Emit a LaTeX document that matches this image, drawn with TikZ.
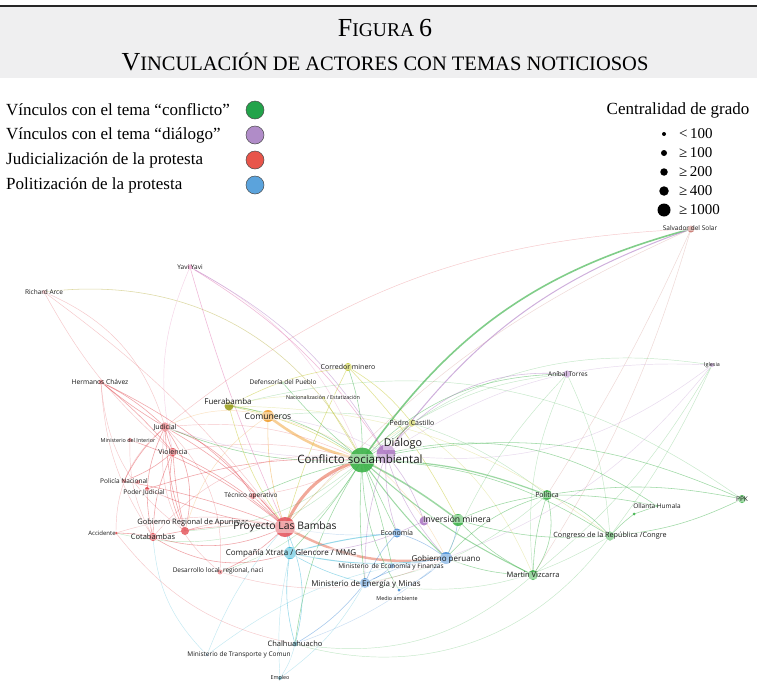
\documentclass[tikz,border=0pt]{standalone}
\usepackage{fontspec}
\setmainfont{Liberation Serif}
\newfontfamily\labfont{Open Sans}
\definecolor{cgreen}{HTML}{3DB34A}
\definecolor{cpurple}{HTML}{B07CC6}
\definecolor{cred}{HTML}{E2474F}
\definecolor{cblue}{HTML}{4A90D9}
\definecolor{ccyan}{HTML}{33B5D6}
\definecolor{cyel}{HTML}{C4C82A}
\definecolor{corange}{HTML}{F0A030}
\definecolor{cpink}{HTML}{E070B0}
\definecolor{cbrown}{HTML}{C87870}
\definecolor{hdrgray}{HTML}{EFEFF0}
\definecolor{lgreen}{HTML}{22A34A}
\definecolor{lpurple}{HTML}{B08CC8}
\definecolor{lred}{HTML}{E8554A}
\definecolor{lblue}{HTML}{5BA3DC}
\begin{document}
\begin{tikzpicture}[x=1pt,y=-1pt,
  dot/.style={circle,inner sep=0pt,draw=none,fill=#1,fill opacity=0.9},
  lbl/.style={font=\labfont\fontsize{#1}{#1}\selectfont,text=black!90,inner sep=0.6pt,fill=white,fill opacity=0.45,text opacity=1},
  edge/.style={line width=0.55pt,opacity=0.5},
  fedge/.style={line width=0.45pt,opacity=0.3},
  legdot/.style={circle,draw=black!70,line width=0.5pt,fill=#1,minimum width=16pt,minimum height=18pt,inner sep=0pt},
  degdot/.style={circle,fill=black,inner sep=0pt,minimum size=#1},
  legtext/.style={font=\fontsize{17}{17}\selectfont,anchor=west,inner sep=0pt},
  degtext/.style={font=\fontsize{15}{15}\selectfont,anchor=west,inner sep=0pt}
]
\useasboundingbox (0,0) rectangle (757,699);
\fill[white] (0,0) rectangle (757,699);
% header
\fill[hdrgray] (0,7) rectangle (757,78);
\draw[line width=1.4pt,black!85] (0,6) -- (757,6);
\node (t1) at (385,28) {\fontsize{26}{26}\selectfont F\fontsize{19.5}{19.5}\selectfont IGURA \fontsize{26}{26}\selectfont 6};
\node (t2) at (385,62) {\fontsize{26}{26}\selectfont V\fontsize{20.5}{20.5}\selectfont INCULACIÓN DE ACTORES CON TEMAS NOTICIOSOS};
% legend
\node[legtext] (l1) at (6,110) {Vínculos con el tema “conflicto”};
\node[legtext] (l2) at (6,135) {Vínculos con el tema “diálogo”};
\node[legtext] (l3) at (6,160) {Judicialización de la protesta};
\node[legtext] (l4) at (6,185) {Politización de la protesta};
\node[legdot=lgreen] (c1) at (255,110) {};
\node[legdot=lpurple] (c2) at (255,135) {};
\node[legdot=lred] (c3) at (255,160) {};
\node[legdot=lblue] (c4) at (255,185) {};
\node[font=\fontsize{17}{17}\selectfont,inner sep=0pt] (cg) at (678,110) {Centralidad de grado};
\node[degdot=4pt] (d1) at (664,134) {};
\node[degdot=6pt] (d2) at (664,153) {};
\node[degdot=7.5pt] (d3) at (664,172) {};
\node[degdot=9.5pt] (d4) at (664,191) {};
\node[degdot=13pt] (d5) at (664,210) {};
\node[degtext] (e1) at (679,134) {<\,100};
\node[degtext] (e2) at (679,153) {≥\,100};
\node[degtext] (e3) at (679,172) {≥\,200};
\node[degtext] (e4) at (679,191) {≥\,400};
\node[degtext] (e5) at (679,210) {≥\,1000};
% coordinates of actors
\coordinate (sds) at (691,229);
\coordinate (yy) at (190,267);
\coordinate (ra) at (44,292);
\coordinate (cm) at (348,367);
\coordinate (dp) at (283,383);
\coordinate (ne) at (324,398);
\coordinate (hc) at (101,382);
\coordinate (fb) at (229,406);
\coordinate (co) at (268,416);
\coordinate (ju) at (165,427);
\coordinate (mi) at (130,440);
\coordinate (vi) at (173,452);
\coordinate (pc) at (412,423);
\coordinate (at) at (567,374);
\coordinate (ig) at (712,365);
\coordinate (di) at (386,454);
\coordinate (cs) at (362,460);
\coordinate (pn) at (124,481);
\coordinate (pn2) at (138,482);
\coordinate (pj) at (147,489);
\coordinate (to) at (253,496);
\coordinate (gr) at (185,531);
\coordinate (ac) at (116,533);
\coordinate (ct) at (153,537);
\coordinate (lb) at (285,527);
\coordinate (cx) at (290,553);
\coordinate (dl) at (220,572);
\coordinate (ec) at (397,533);
\coordinate (imp) at (424,521);
\coordinate (im) at (458,520);
\coordinate (mef) at (392,566);
\coordinate (gp) at (446,558);
\coordinate (mem) at (365,583);
\coordinate (ma) at (399,590);
\coordinate (po) at (547,495);
\coordinate (oh) at (657,506);
\coordinate (oh2) at (634,514);
\coordinate (ppk) at (742,499);
\coordinate (cr) at (610,536);
\coordinate (mv) at (533,575);
\coordinate (ch) at (295,644);
\coordinate (mt) at (207,655);
\coordinate (em) at (280,678);
% faint long edges
\draw[fedge,cred] (ju) to[bend left=18] (sds);
\draw[fedge,cbrown] (sds) to[bend left=8] (mv);
\draw[fedge,cbrown] (sds) to[bend left=4] (po);
\draw[fedge,cbrown] (sds) to[bend right=12] (lb);
\draw[edge,olive!60] (ra) to[bend left=35] (cs);
\draw[fedge,cred] (ra) to[bend left=25] (ju);
\draw[fedge,cred] (ra) to[bend right=10] (vi);
\draw[fedge,cred] (ra) to[bend left=8] (lb);
\draw[edge,cpink] (yy) to[bend left=12] (di);
\draw[edge,cpink] (yy) to[bend right=4] (lb);
\draw[fedge,cpink] (yy) to[bend right=18] (vi);
\draw[fedge,cpink] (yy) to[bend left=20] (cs);
\draw[fedge,cpurple] (di) to[bend left=18] (ig);
\draw[fedge,cpurple] (di) to[bend right=22] (ig);
\draw[fedge,cgreen] (cs) to[bend left=24] (ig);
\draw[fedge,cgreen] (co) to[bend left=22] (po);
\draw[fedge,cgreen] (fb) to[bend left=25] (ppk);
\draw[fedge,cyel] (fb) to[bend left=18] (cr);
\draw[fedge,cgreen] (at) to[bend right=15] (mv);
\draw[fedge,cgreen] (at) to[bend right=10] (gp);
\draw[fedge,cgreen] (at) to[bend left=10] (cr);
\draw[fedge,cgreen] (pc) to[bend left=12] (at);
\draw[fedge,cpurple] (ig) to[bend left=15] (gp);
\draw[fedge,cgreen] (ig) to[bend left=10] (mv);
\draw[fedge,cgreen] (ig) to[bend left=6] (cr);
\draw[fedge,cgreen] (ch) to[bend right=25] (mv);
\draw[fedge,cgreen] (ch) to[bend right=35] (cr);
\draw[fedge,ccyan] (mt) to[bend left=10] (lb);
\draw[fedge,ccyan] (mt) to[bend left=15] (gp);
\draw[fedge,ccyan] (mt) to[bend left=20] (ct);
\draw[fedge,ccyan] (em) to[bend left=8] (cx);
\draw[fedge,ccyan] (em) to[bend right=10] (ch);
\draw[fedge,ccyan] (em) to[bend right=12] (mem);
\draw[fedge,cred] (dl) to[bend right=20] (gp);
\draw[fedge,cred] (ac) to[bend right=20] (ch);
% red cluster
\draw[edge,cred] (hc) to[bend left=8] (ju);
\draw[edge,cred] (hc) to[bend right=4] (ju);
\draw[edge,cred] (hc) to[bend left=5] (vi);
\draw[edge,cred] (hc) to[bend left=12] (lb);
\draw[fedge,cred] (hc) to[bend right=15] (ct);
\draw[fedge,cred] (hc) to[bend right=25] (gr);
\draw[edge,cred] (ju) to[bend left=10] (lb);
\draw[edge,cred] (ju) to[bend right=5] (vi);
\draw[edge,cred] (ju) to[bend right=8] (gr);
\draw[edge,cred] (ju) to[bend right=20] (ct);
\draw[edge,cred] (ju) to[bend right=10] (pn);
\draw[edge,cred] (ju) to[bend left=20] (to);
\draw[fedge,cred] (ju) to[bend left=15] (cs);
\draw[fedge,cred] (ju) to[bend left=25] (dl);
\draw[edge,cred] (vi) to[bend left=8] (lb);
\draw[edge,cred] (vi) to[bend right=12] (ct);
\draw[edge,cred] (vi) to[bend right=5] (gr);
\draw[fedge,cred] (vi) to[bend left=12] (cs);
\draw[edge,cred] (mi) to[bend left=10] (lb);
\draw[fedge,cred] (mi) to[bend right=15] (ct);
\draw[edge,cred] (pn) to[bend left=5] (lb);
\draw[edge,cred] (pn) to[bend right=10] (vi);
\draw[edge,cred] (pj) to[bend right=8] (lb);
\draw[edge,cred] (pj) to[bend left=10] (cs);
\draw[edge,cred] (to) to (lb);
\draw[fedge,cred] (to) to[bend right=10] (cs);
\draw[edge,cred] (gr) to[bend left=15] (lb);
\draw[edge,cred] (gr) to[bend right=25] (ju);
\draw[edge,cred] (gr) to[bend left=20] (vi);
\draw[edge,cred] (ct) to[bend left=8] (lb);
\draw[edge,cred] (ct) to[bend right=20] (lb);
\draw[edge,cred] (ac) to[bend left=5] (ct);
\draw[fedge,cred] (ac) to[bend left=25] (ju);
\draw[fedge,cred] (ac) to[bend left=15] (lb);
\draw[edge,cred] (dl) to[bend right=10] (lb);
\draw[fedge,cred] (dl) to[bend left=30] (ju);
\draw[edge,cred] (ct) to[bend right=25] (cx);
\draw[fedge,cred] (ct) to[bend left=30] (cs);
% yellow / orange
\draw[edge,cyel] (fb) to[bend right=10] (lb);
\draw[edge,cyel] (fb) to[bend left=10] (cs);
\draw[edge,cyel] (fb) to[bend left=10] (co);
\draw[edge,cyel] (cm) to[bend right=5] (lb);
\draw[edge,cyel] (cm) to[bend left=10] (pc);
\draw[edge,cyel] (cm) to[bend left=8] (im);
\draw[edge,cyel] (cm) to[bend right=10] (fb);
\draw[edge,cyel] (ne) to (cs);
\draw[fedge,cyel] (ne) to[bend right=10] (fb);
\draw[edge,cyel] (pc) to[bend right=8] (di);
\draw[fedge,cyel] (pc) to[bend left=15] (mv);
\draw[fedge,cyel] (pc) to[bend right=10] (lb);
\draw[edge,corange] (co) to[bend right=10] (lb);
\draw[fedge,corange] (co) to[bend right=20] (ju);
\draw[fedge,corange] (co) to[bend left=25] (gp);
\draw[fedge,corange] (co) to[bend right=20] (gr);
% thick main edges
\draw[line width=2.6pt,corange,opacity=0.5] (co) to[bend right=12] (cs);
\draw[line width=3pt,cred!70!corange,opacity=0.55] (lb) to[bend left=25] (cs);
\draw[line width=2.4pt,cred!70!corange,opacity=0.5] (lb) to[bend right=18] (gp);
\draw[line width=1.6pt,cgreen,opacity=0.65] (cs) to[bend left=20] (sds);
\draw[line width=1pt,cpurple,opacity=0.6] (di) to[bend left=17] (sds);
% green fan
\draw[edge,cgreen,line width=1.2pt] (cs) to[bend left=10] (po);
\draw[edge,cgreen,line width=1pt] (cs) to[bend right=8] (mv);
\draw[edge,cgreen] (cs) to[bend left=15] (cr);
\draw[edge,cgreen] (cs) to[bend left=18] (ppk);
\draw[edge,cgreen,line width=1.5pt] (cs) to[bend left=5] (im);
\draw[edge,cgreen,line width=1pt] (cs) to[bend right=5] (gp);
\draw[edge,cgreen] (cs) to[bend right=5] (mem);
\draw[edge,cgreen] (cs) to[bend right=12] (ch);
\draw[edge,cgreen] (cs) to (ec);
\draw[edge,cgreen] (cs) to[bend left=4] (mef);
\draw[edge,cgreen] (cs) to[bend left=5] (cx);
\draw[edge,cgreen] (cs) to[bend right=6] (to);
\draw[edge,cgreen] (cs) to[bend right=10] (cm);
\draw[edge,cgreen] (cs) to[bend left=5] (dp);
\draw[edge,cgreen] (cs) to[bend right=6] (pc);
\draw[edge,cgreen] (cs) to[bend right=15] (ma);
\draw[edge,cgreen] (cs) to[bend left=25] (oh);
\draw[edge,cgreen] (cs) to[bend left=22] (at);
\draw[edge,cgreen] (cs) to[bend right=14] (fb);
\draw[edge,cgreen] (cs) to[bend left=12] (ju);
\draw[fedge,cgreen] (cs) to[bend left=20] (dl);
\draw[fedge,cgreen] (cs) to[bend left=30] (ac);
\draw[fedge,cgreen] (cs) to[bend left=18] (gr);
% purple
\draw[edge,cpurple] (di) to[bend left=28] (at);
\draw[edge,cpurple] (di) to[bend left=10] (imp);
\draw[edge,cpurple] (di) to[bend right=10] (ec);
\draw[edge,cpurple] (di) to[bend right=10] (mem);
\draw[edge,cpurple] (di) to[bend right=12] (gp);
\draw[edge,cpurple] (di) to[bend right=15] (yy);
\draw[fedge,cpurple] (di) to[bend right=10] (co);
\draw[fedge,cpurple] (di) to[bend left=12] (ju);
\draw[edge,cpurple] (imp) to[bend left=12] (cx);
% green politics
\draw[edge,cgreen] (po) to[bend left=10] (ppk);
\draw[edge,cgreen] (po) to[bend left=15] (cr);
\draw[edge,cgreen] (po) to[bend right=8] (mv);
\draw[edge,cgreen] (po) to[bend left=6] (oh);
\draw[edge,cgreen] (po) to[bend right=15] (gp);
\draw[edge,cgreen] (oh2) to (oh);
\draw[edge,cgreen] (cr) to[bend right=10] (ppk);
\draw[edge,cgreen] (cr) to[bend left=5] (oh2);
\draw[edge,cgreen] (mv) to[bend left=10] (gp);
\draw[edge,cgreen] (mv) to[bend right=25] (po);
\draw[edge,cgreen] (im) to[bend left=8] (po);
\draw[edge,cgreen] (im) to[bend right=10] (cr);
\draw[edge,cgreen] (im) to[bend right=10] (mv);
\draw[fedge,cgreen] (mem) to[bend right=20] (cr);
\draw[fedge,cgreen] (mem) to[bend right=15] (po);
% blue / cyan
\draw[edge,ccyan,line width=1pt] (cx) to[bend left=5] (ec);
\draw[edge,ccyan,line width=1pt] (cx) to[bend right=10] (gp);
\draw[edge,ccyan] (cx) to[bend right=8] (mem);
\draw[edge,ccyan] (cx) to[bend right=12] (ch);
\draw[edge,ccyan] (lb) to[bend left=20] (ch);
\draw[edge,ccyan] (lb) to[bend left=5] (cx);
\draw[edge,cblue] (mem) to[bend left=10] (ch);
\draw[edge,cblue] (mem) to[bend left=10] (gp);
\draw[edge,cblue] (ec) to[bend right=10] (mem);
\draw[edge,cblue] (ec) to[bend left=10] (gp);
\draw[edge,cblue] (mef) to (gp);
\draw[edge,cblue] (mef) to[bend left=10] (mem);
\draw[edge,cblue] (ma) to[bend right=10] (gp);
\draw[edge,cblue] (im) to[bend left=10] (gp);
\draw[fedge,cblue] (ch) to[bend right=10] (gp);
\draw[fedge,cblue] (lb) to[bend right=8] (ec);
% dots
\node[dot=cbrown,minimum size=7pt] (nsds) at (sds) {};
\node[dot=cpink,minimum size=5pt] (nyy) at (yy) {};
\node[dot=cred!50,minimum size=4pt] (nra) at (ra) {};
\node[dot=cyel,minimum size=8pt] (ncm) at (cm) {};
\node[dot=cgreen!60,minimum size=3pt] (ndp) at (dp) {};
\node[dot=cyel,minimum size=3pt] (nne) at (ne) {};
\node[dot=cred,minimum size=5pt] (nhc) at (hc) {};
\node[dot=cyel!80!black,minimum size=9pt] (nfb) at (fb) {};
\node[dot=corange,minimum size=12pt] (nco) at (co) {};
\node[dot=cred,minimum size=9pt] (nju) at (ju) {};
\node[dot=cred,minimum size=4pt] (nmi) at (mi) {};
\node[dot=cred,minimum size=8pt] (nvi) at (vi) {};
\node[dot=cyel,minimum size=7pt] (npc) at (pc) {};
\node[dot=cpurple,minimum size=7pt] (nat) at (at) {};
\node[dot=cpurple,minimum size=4pt] (nig) at (ig) {};
\node[dot=cpurple,minimum size=19pt] (ndi) at (di) {};
\node[dot=cgreen,minimum size=25pt] (ncs) at (cs) {};
\node[dot=cred,minimum size=4pt] (npn) at (pn) {};
\node[dot=cred,minimum size=4pt] (npn2) at (pn2) {};
\node[dot=cred,minimum size=4pt] (npj) at (pj) {};
\node[dot=cred,minimum size=6pt] (nto) at (to) {};
\node[dot=cred!85,minimum size=8pt] (ngr) at (gr) {};
\node[dot=cred,minimum size=3pt] (nac) at (ac) {};
\node[dot=cred,minimum size=8pt] (nct) at (ct) {};
\node[dot=cred!90,minimum size=20pt] (nlb) at (lb) {};
\node[dot=ccyan,minimum size=12pt] (ncx) at (cx) {};
\node[dot=cred,minimum size=5pt] (ndl) at (dl) {};
\node[dot=cblue,minimum size=9pt] (nec) at (ec) {};
\node[dot=cpurple,minimum size=9pt] (nimp) at (imp) {};
\node[dot=cgreen,minimum size=12pt] (nim) at (im) {};
\node[dot=cblue,minimum size=5pt] (nmef) at (mef) {};
\node[dot=cblue,minimum size=12pt] (ngp) at (gp) {};
\node[dot=cblue,minimum size=10pt] (nmem) at (mem) {};
\node[dot=cblue,minimum size=3pt] (nma) at (ma) {};
\node[dot=cgreen,minimum size=10pt] (npo) at (po) {};
\node[dot=cgreen,minimum size=3pt] (noh) at (oh) {};
\node[dot=cgreen,minimum size=3pt] (noh2) at (oh2) {};
\node[dot=cgreen,minimum size=8pt] (nppk) at (ppk) {};
\node[dot=cgreen,minimum size=9pt] (ncr) at (cr) {};
\node[dot=cgreen,minimum size=10pt] (nmv) at (mv) {};
\node[dot=ccyan!80!black,minimum size=5pt] (nch) at (ch) {};
\node[dot=cblue,minimum size=2pt] (nmt) at (mt) {};
\node[dot=ccyan!80!black,minimum size=4pt] (nem) at (em) {};
% labels
\node[lbl=6.5] (tsds) at (690,228) {Salvador del Solar};
\node[lbl=6.5] (tyy) at (190,267) {Yavi Yavi};
\node[lbl=6.5] (tra) at (44,292) {Richard Arce};
\node[lbl=7] (tcm) at (348,367) {Corredor minero};
\node[lbl=6.5] (tdp) at (283,382) {Defensoría del Pueblo};
\node[lbl=5.4] (tne) at (323,397) {Nacionalización / Estatización};
\node[lbl=6.7] (thc) at (100,382) {Hermanos Chávez};
\node[lbl=8] (tfb) at (228,401) {Fuerabamba};
\node[lbl=8.6] (tco) at (268,416) {Comuneros};
\node[lbl=7] (tju) at (165,427) {Judicial};
\node[lbl=5.4] (tmi) at (128,440) {Ministerio del Interior};
\node[lbl=7] (tvi) at (173,452) {Violencia};
\node[lbl=7] (tpc) at (412,423) {Pedro Castillo};
\node[lbl=6.5] (tat) at (568,374) {Aníbal Torres};
\node[lbl=5.4] (tig) at (712,365) {Iglesia};
\node[lbl=10.8] (tdi) at (403,444) {Diálogo};
\node[lbl=11.5] (tcs) at (360,459) {Conflicto sociambiental};
\node[lbl=6.5] (tpn) at (124,481) {Policía Nacional};
\node[lbl=6.5] (tpj) at (144,493) {Poder Judicial};
\node[lbl=6.5] (tto) at (251,496) {Técnico operativo};
\node[lbl=7.5] (tgr) at (193,523) {Gobierno Regional de Apurimac};
\node[lbl=6] (tac) at (102,533) {Accidente};
\node[lbl=7.5] (tct) at (153,537) {Cotabambas};
\node[lbl=10.4] (tlb) at (285,527) {Proyecto Las Bambas};
\node[lbl=8] (tcx) at (291,553) {Compañía Xtrata / Glencore / MMG};
\node[lbl=6.5] (tdl) at (218,571) {Desarrollo local, regional, naci};
\node[lbl=7] (tec) at (397,533) {Economía};
\node[lbl=8.6] (tim) at (457,519) {Inversión minera};
\node[lbl=6.5] (tmef) at (391,567) {Ministerio \,de Economía y Finanzas};
\node[lbl=8] (tgp) at (446,559) {Gobierno peruano};
\node[lbl=8] (tmem) at (366,584) {Ministerio de Energía y Minas};
\node[lbl=5.4] (tma) at (397,598) {Medio ambiente};
\node[lbl=7] (tpo) at (547,495) {Política};
\node[lbl=6.5] (toh) at (657,506) {Ollanta Humala};
\node[lbl=6.5] (tppk) at (742,499) {PPK};
\node[lbl=7.2] (tcr) at (610,536) {Congreso de la República /Congre};
\node[lbl=7.5] (tmv) at (533,575) {Martín Vizcarra};
\node[lbl=7.5] (tch) at (295,644) {Chalhuahuacho};
\node[lbl=6.5] (tmt) at (239,655) {Ministerio de Transporte y Comun};
\node[lbl=5.4] (tem) at (280,678) {Empleo};
\end{tikzpicture}
\end{document}
